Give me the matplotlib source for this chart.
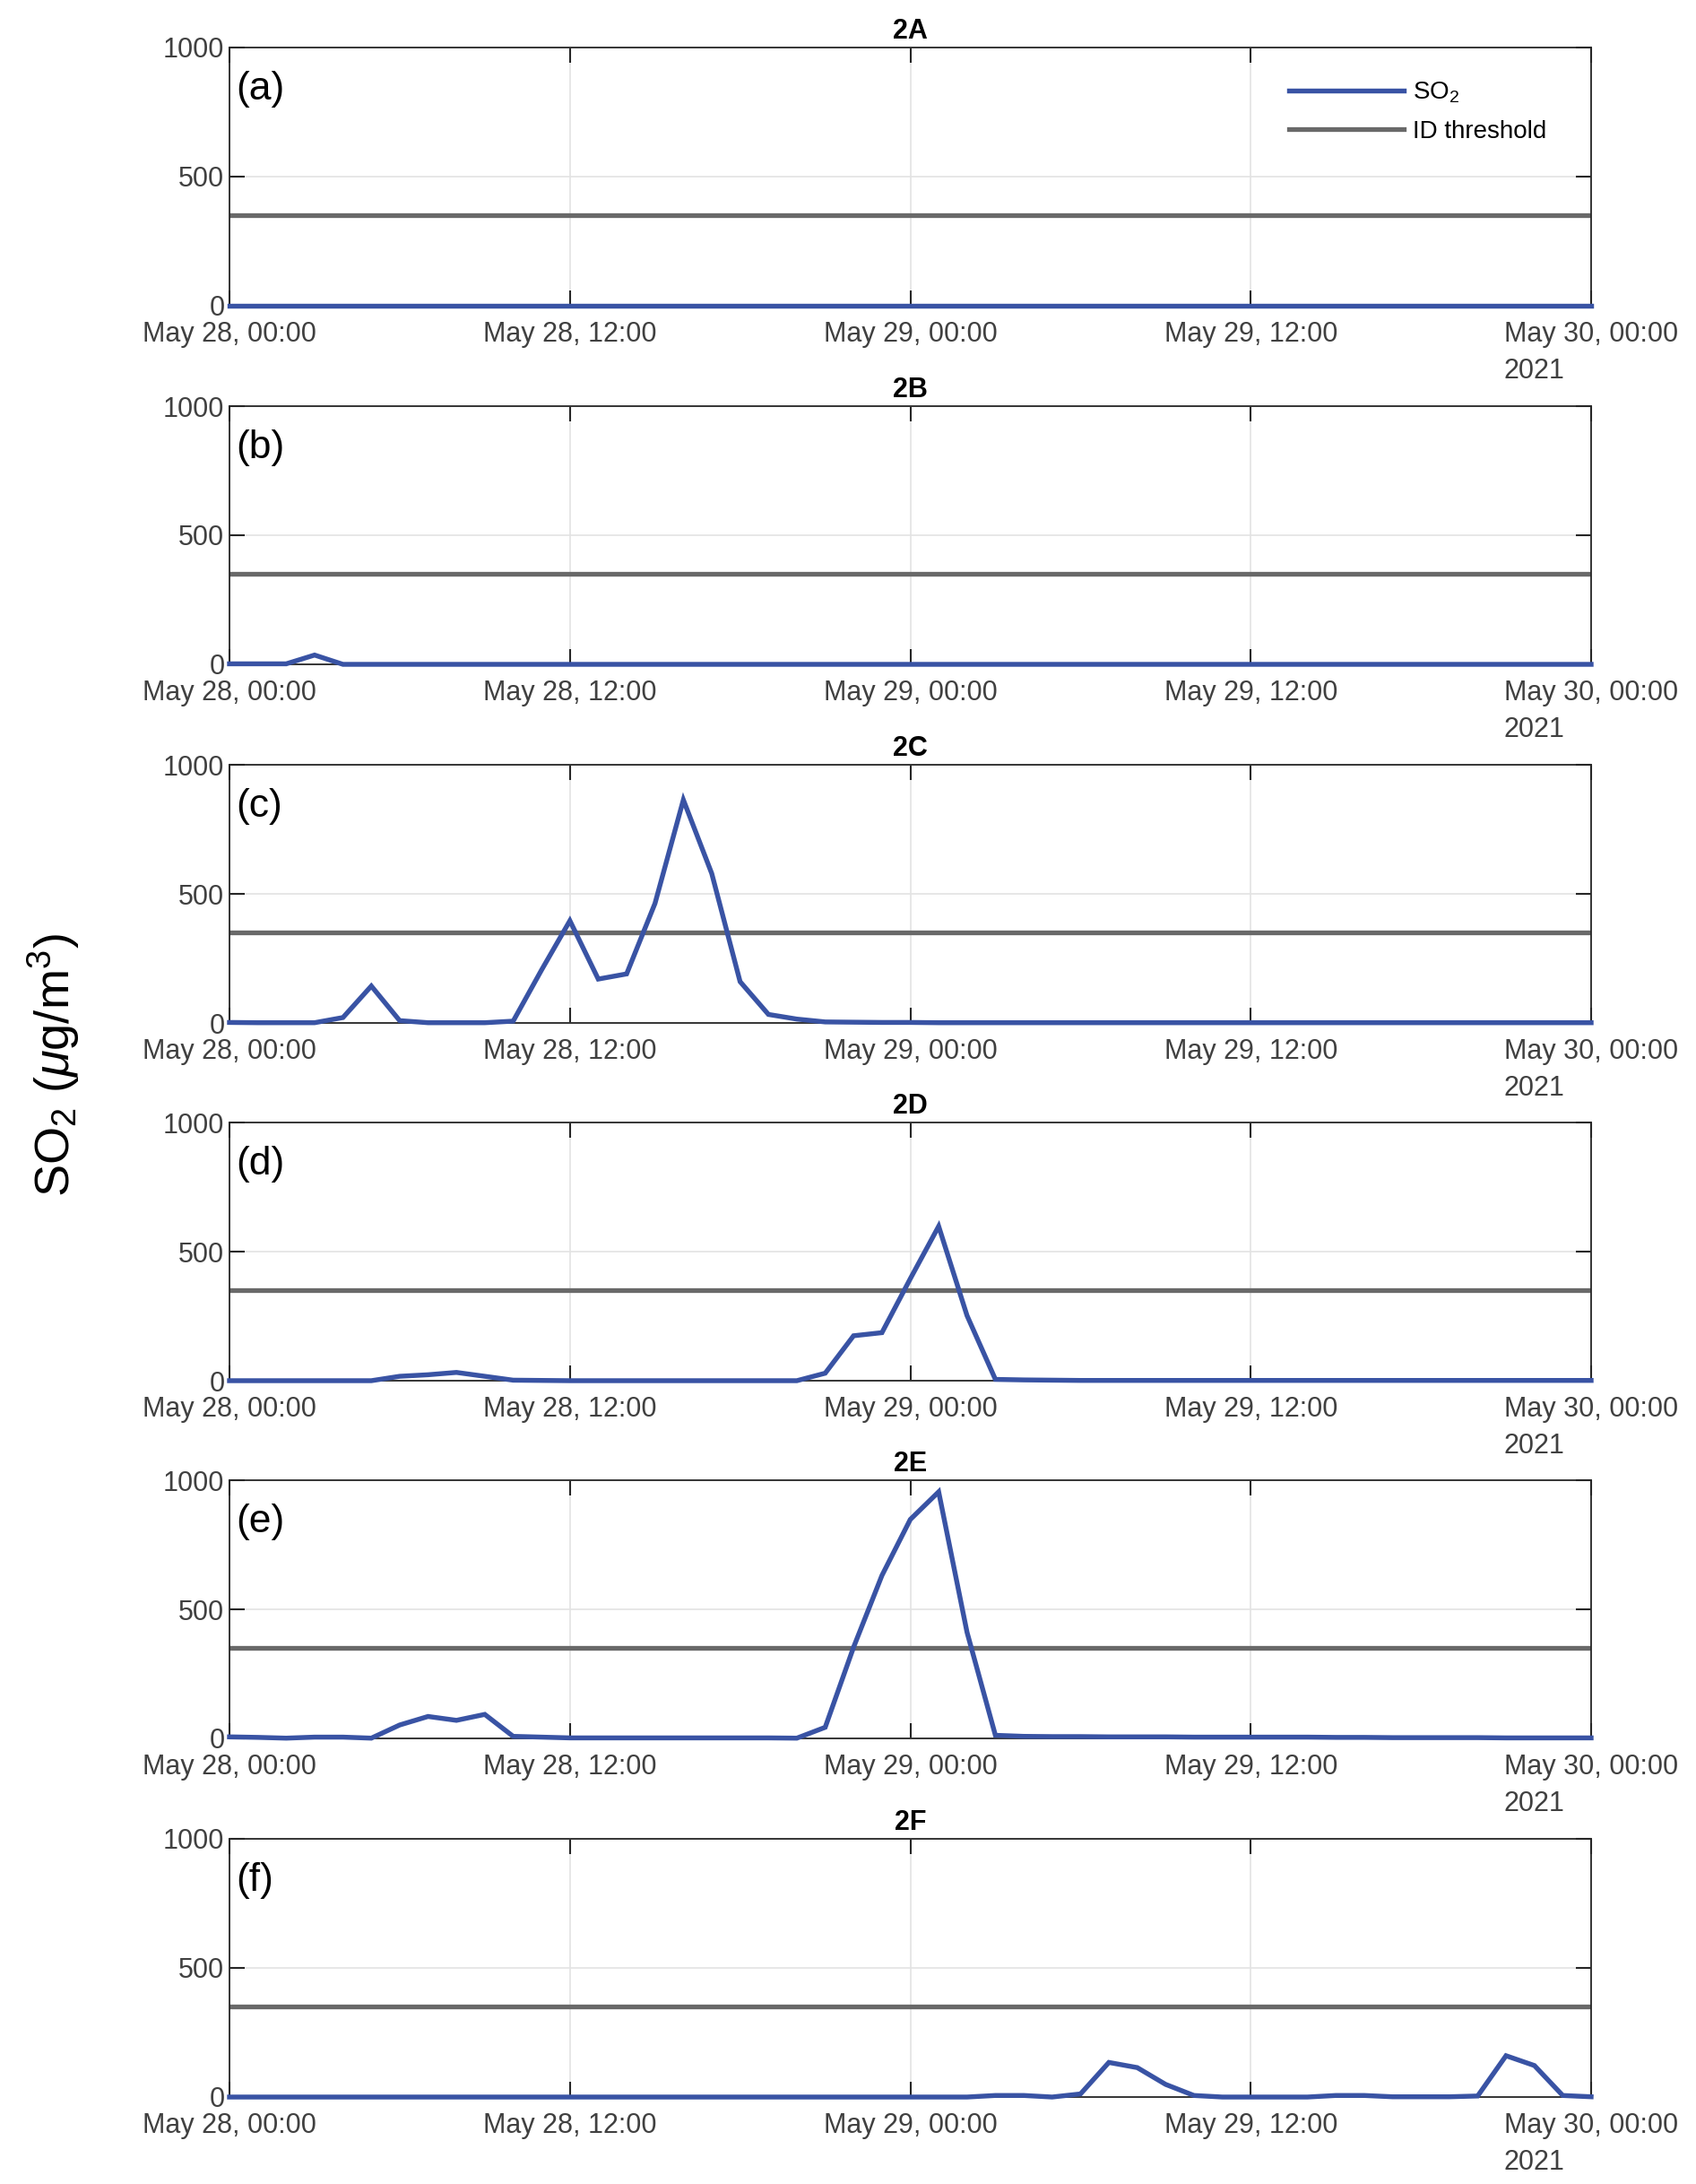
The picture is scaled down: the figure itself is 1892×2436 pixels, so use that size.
"""SO2 time series at six stations, with ID threshold."""

import matplotlib.pyplot as plt
import matplotlib.dates as mdates
import pandas as pd

# hourly values, May 28 00:00 .. May 30 00:00 (49 points)
times = pd.date_range("2021-05-28 00:00", "2021-05-30 00:00", freq="h")

so2_2a = [0, 0, 0, 0, 0, 0, 0, 0, 0, 0, 0, 0,
          0, 0, 0, 0, 0, 0, 0, 0, 0, 0, 0, 0,
          0, 0, 0, 0, 0, 0, 0, 0, 0, 0, 0, 0,
          0, 0, 0, 0, 0, 0, 0, 0, 0, 0, 0, 0, 0]
so2_2b = [2, 2, 2, 36, 0, 0, 0, 0, 0, 0, 0, 0,
          0, 0, 0, 0, 0, 0, 0, 0, 0, 0, 0, 0,
          0, 0, 0, 0, 0, 0, 0, 0, 0, 0, 0, 0,
          0, 0, 0, 0, 0, 0, 0, 0, 0, 0, 0, 0, 0]
so2_2c = [2, 1, 1, 1, 21, 143, 9, 1, 1, 1, 7, 205,
          396, 170, 190, 463, 864, 579, 160, 33, 15, 4, 3, 2,
          2, 1, 1, 1, 1, 1, 1, 1, 1, 1, 1, 1,
          1, 1, 1, 1, 1, 1, 1, 1, 1, 1, 1, 1, 1]
so2_2d = [0, 0, 0, 0, 0, 0, 17, 23, 32, 17, 2, 1,
          0, 0, 0, 0, 0, 0, 0, 0, 0, 29, 174, 186,
          395, 598, 252, 5, 3, 2, 1, 1, 1, 1, 1, 1,
          1, 1, 1, 1, 1, 1, 1, 1, 1, 1, 1, 1, 1]
so2_2e = [6, 4, 1, 5, 5, 1, 52, 85, 70, 93, 8, 5,
          2, 2, 2, 2, 2, 2, 2, 2, 1, 43, 353, 631,
          848, 955, 411, 12, 8, 7, 7, 6, 6, 6, 5, 5,
          5, 5, 5, 4, 4, 3, 3, 3, 3, 2, 2, 2, 2]
so2_2f = [0, 0, 0, 0, 0, 0, 0, 0, 0, 0, 0, 0,
          0, 0, 0, 0, 0, 0, 0, 0, 0, 0, 0, 0,
          0, 0, 0, 6, 6, 0, 12, 134, 114, 49, 6, 0,
          0, 0, 0, 6, 6, 1, 1, 1, 4, 160, 122, 6, 1]

series = [so2_2a, so2_2b, so2_2c, so2_2d, so2_2e, so2_2f]
titles = ["2A", "2B", "2C", "2D", "2E", "2F"]
letters = ["(a)", "(b)", "(c)", "(d)", "(e)", "(f)"]
threshold = 350
xticks = pd.date_range("2021-05-28 00:00", "2021-05-30 00:00", freq="12h")

blue = "#3953a4"
gray = "#696969"
dark = "#262626"
txt = "#404040"

plt.rcParams["font.family"] = ["Liberation Sans", "DejaVu Sans"]
plt.rcParams["mathtext.fontset"] = "custom"
plt.rcParams["mathtext.rm"] = "Liberation Sans"
plt.rcParams["mathtext.it"] = "Liberation Sans:italic"

W, H = 1892, 2436
fig = plt.figure(figsize=(W / 100, H / 100), dpi=100)

tops = [53, 453, 853, 1252, 1651, 2051]
ah = 288
for i, (vals, ttl, let) in enumerate(zip(series, titles, letters)):
    ax = fig.add_axes([256 / W, 1 - (tops[i] + ah) / H, 1519 / W, ah / H])
    ax.plot(times, vals, color=blue, lw=3.9, label="SO$_2$", zorder=3,
            clip_on=False, solid_joinstyle="miter")
    ax.axhline(threshold, color=gray, lw=3.8, label="ID threshold", zorder=2)

    ax.set_xlim(times[0], times[-1])
    ax.set_ylim(0, 1000)
    ax.set_yticks([0, 500, 1000])
    ax.set_xticks(xticks)
    ax.xaxis.set_major_formatter(mdates.DateFormatter("%b %d, %H:%M"))
    ax.grid(True, color="#e3e3e3", lw=1.2, zorder=0)
    ax.tick_params(direction="in", length=12, width=1.5, colors=dark,
                   labelcolor=txt, labelsize=22, top=True, right=True)
    ax.tick_params(axis="x", pad=12)
    ax.tick_params(axis="y", pad=4)
    for sp in ax.spines.values():
        sp.set_color(dark)
        sp.set_linewidth(1.3)

    ax.set_title(ttl, fontsize=22, fontweight="bold", pad=7)
    ax.text(0.005, 0.84, let, transform=ax.transAxes, fontsize=32,
            va="center", ha="left", color="black")
    ax.text(0.936, -0.255, "2021", transform=ax.transAxes, fontsize=22,
            va="center", ha="left", color=txt)

    if i == 0:
        ax.legend(loc="upper left", bbox_to_anchor=(0.762, 0.96), frameon=False,
                  fontsize=20, handlelength=4.6, handletextpad=0.35,
                  labelspacing=0.6)

fig.text(60 / W, 1 - 1188 / H, "SO$_2$ ($\\mu$g/m$^3$)", rotation=90,
         fontsize=39, va="center", ha="center")

fig.savefig("out.png", dpi=100, facecolor="white")
